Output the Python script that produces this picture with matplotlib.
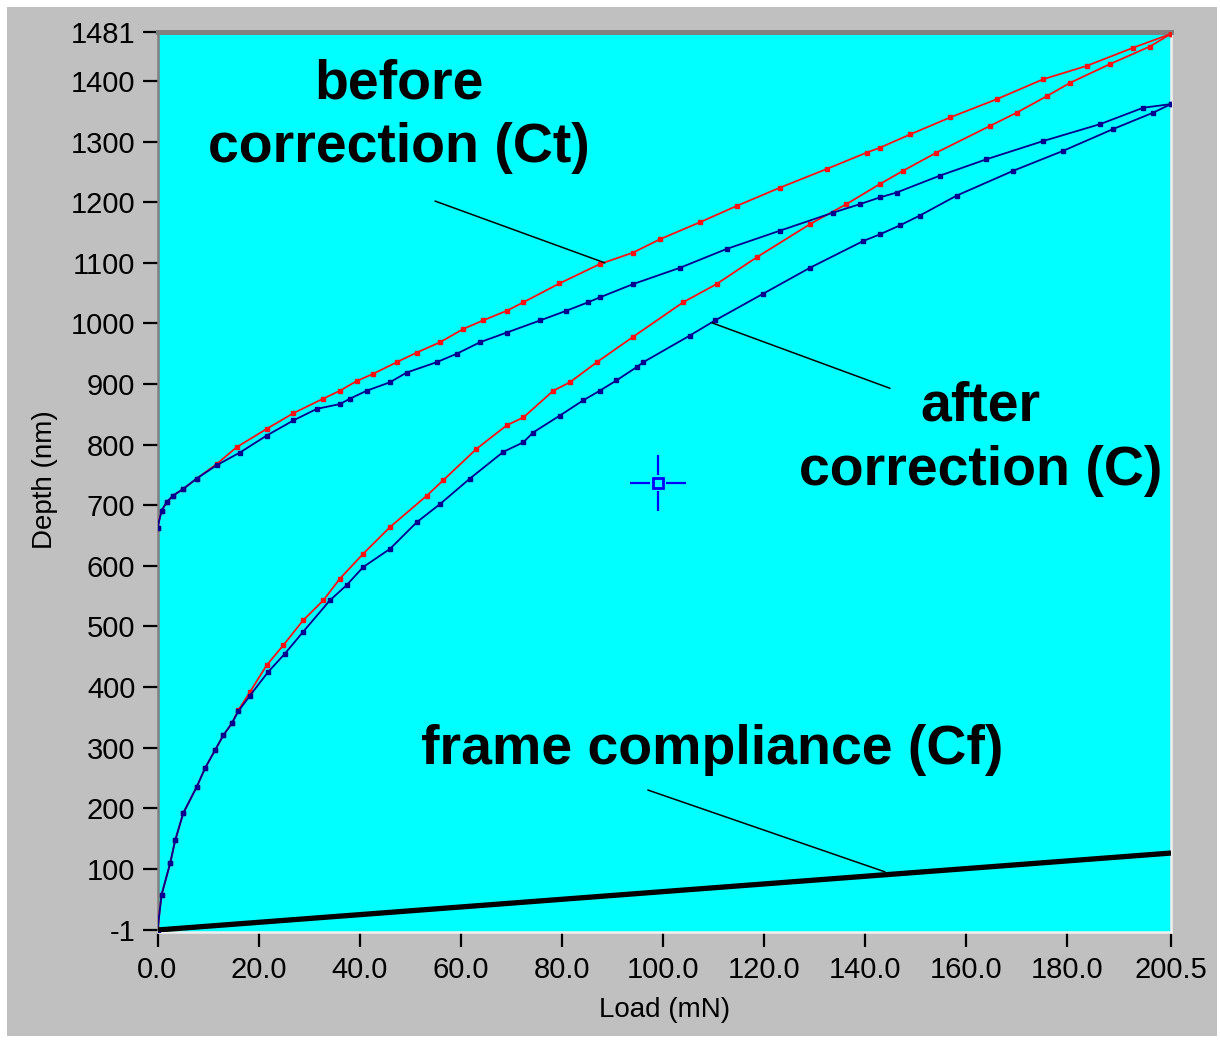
#!/usr/bin/env python3
"""Load-depth indentation curves before/after frame compliance correction."""
import matplotlib

matplotlib.use("Agg")
import matplotlib.pyplot as plt
from matplotlib.patches import Rectangle
from matplotlib.path import Path

# loading branch, before correction (Ct)
load_ct_up = [0, 0.8, 2.5, 3.5, 5.1, 7.75, 9.4, 11.4, 13.0, 14.7, 16.0, 18.3, 21.6,
              24.9, 28.8, 32.8, 36.1, 40.7, 46.0, 53.3, 56.5, 63.1, 69.1, 72.4, 78.3,
              81.6, 86.9, 94.1, 104.0, 110.6, 118.5, 129.1, 136.3, 142.9, 147.5, 154.1,
              164.7, 170.0, 175.9, 180.5, 188.4, 196.3, 200.5]
depth_ct_up = [-1, 57, 109, 147, 192, 235, 266, 296, 320, 340, 362, 392, 436,
               469, 510, 543, 579, 620, 664, 716, 741, 793, 832, 845, 889,
               903, 936, 978, 1035, 1065, 1109, 1164, 1197, 1230, 1252, 1282,
               1326, 1348, 1375, 1397, 1428, 1457, 1478]

# unloading branch, before correction (Ct)
load_ct_down = [0, 0.8, 1.8, 3.1, 5.1, 7.75, 11.7, 15.7, 21.6, 26.9, 32.8, 36.1, 39.4,
                42.7, 47.3, 51.3, 55.9, 60.5, 64.4, 69.1, 72.4, 79.5, 87.5, 94.1, 99.4,
                107.3, 114.6, 123.1, 132.4, 140.3, 142.9, 148.9, 156.8, 166.0, 175.2,
                183.8, 193.0, 200.5]
depth_ct_down = [663, 691, 705, 716, 727, 744, 768, 796, 826, 852, 876, 889, 905,
                 917, 936, 952, 969, 991, 1005, 1021, 1035, 1066, 1098, 1117, 1139,
                 1167, 1194, 1224, 1255, 1282, 1290, 1312, 1340, 1370, 1403,
                 1425, 1455, 1478]

# loading branch, after correction (C)
load_c_up = [0, 0.8, 2.5, 3.5, 5.1, 7.75, 9.4, 11.4, 13.0, 14.7, 16.0, 18.3, 21.9,
             25.2, 28.8, 34.1, 37.4, 40.7, 46.0, 51.3, 55.9, 61.8, 68.4, 72.4, 74.3,
             79.6, 84.2, 87.5, 90.8, 94.8, 96.1, 105.3, 110.3, 119.8, 129.1, 139.6,
             142.9, 146.9, 150.8, 158.1, 169.3, 179.2, 189.1, 197.0, 200.5]
depth_c_up = [-1, 57, 109, 147, 192, 235, 266, 296, 320, 340, 360, 386, 425,
              455, 491, 543, 568, 598, 628, 672, 702, 744, 788, 804, 820,
              848, 873, 889, 906, 928, 936, 980, 1005, 1049, 1092, 1136,
              1147, 1162, 1178, 1211, 1252, 1285, 1321, 1348, 1362]

# unloading branch, after correction (C)
load_c_down = [0, 0.8, 1.8, 3.1, 5.1, 7.75, 11.7, 16.3, 21.6, 26.9, 31.5, 36.1, 38.1,
               41.4, 46.0, 49.3, 55.2, 59.2, 63.8, 69.1, 75.7, 80.9, 85.2, 87.5, 94.1,
               103.4, 112.6, 123.1, 133.7, 139.0, 142.9, 146.2, 154.8, 164.0, 175.2,
               186.5, 195.0, 200.5]
depth_c_down = [663, 691, 705, 716, 727, 744, 766, 787, 815, 840, 859, 867, 876,
                889, 903, 919, 936, 950, 969, 985, 1005, 1021, 1035, 1043, 1065,
                1092, 1123, 1153, 1183, 1197, 1208, 1216, 1244, 1271, 1301,
                1329, 1356, 1362]

# frame compliance (Cf)
load_cf = [0, 200.5]
depth_cf = [-1, 126]

cursor_load, cursor_depth = 99.0, 737

x_ticks = [0, 20, 40, 60, 80, 100, 120, 140, 160, 180, 200.5]
x_labels = ["0.0", "20.0", "40.0", "60.0", "80.0", "100.0", "120.0", "140.0",
            "160.0", "180.0", "200.5"]
y_ticks = [-1, 100, 200, 300, 400, 500, 600, 700, 800, 900, 1000, 1100, 1200,
           1300, 1400, 1481]
y_labels = [str(v) for v in y_ticks]

# label text, baseline anchor, and where its pointer line runs
labels = [
    ("before", (47.8, 1372), None),
    ("correction (Ct)", (47.8, 1267), ((54.9, 1202), (88.5, 1100))),
    ("after", (162.8, 840), None),
    ("correction (C)", (162.8, 734), ((144.9, 893), (109.7, 1001))),
    ("frame compliance (Cf)", (109.7, 273), ((97.0, 230), (143.9, 95))),
]

RED = "#ff1010"
NAVY = "#000090"
W, H = 1220, 1041

fig = plt.figure(figsize=(W / 100, H / 100), dpi=100, facecolor="white")
fig.patches.append(Rectangle((7 / W, 1 - 1036 / H), 1210 / W, 1029 / H,
                             transform=fig.transFigure, facecolor="#c0c0c0",
                             edgecolor="none", zorder=-1))
ax = fig.add_axes([157.5 / W, 1 - 932 / H, 1013.5 / W, 900 / H])
ax.set_facecolor("#00ffff")

for xs, ys, c in [(load_ct_up, depth_ct_up, RED), (load_ct_down, depth_ct_down, RED),
                  (load_c_up, depth_c_up, NAVY), (load_c_down, depth_c_down, NAVY)]:
    ax.plot(xs, ys, color=c, lw=1.3, marker="s", ms=2.3, mec=c, mfc=c, zorder=3)

ax.plot(load_cf, depth_cf, color="black", lw=3.8, solid_capstyle="butt", zorder=4)

# cursor: open square with a gapped crosshair
cross = Path([(-1, 0), (-0.3, 0), (0.3, 0), (1, 0), (0, -1), (0, -0.3), (0, 0.3), (0, 1)],
             [Path.MOVETO, Path.LINETO] * 4)
ax.plot([cursor_load], [cursor_depth], marker=cross, ms=40, mew=1.6, color="#0000ff",
        zorder=5)
ax.plot([cursor_load], [cursor_depth], marker="s", ms=7, mew=2, mfc="none",
        mec="#0000ff", zorder=5)

for text, pos, ptr in labels:
    ax.text(pos[0], pos[1], text, ha="center", va="baseline", fontsize=40,
            fontweight="bold", family="Liberation Sans", zorder=6)
    if ptr is not None:
        ax.annotate("", xy=ptr[1], xytext=ptr[0],
                    arrowprops=dict(arrowstyle="-", color="black", lw=1.1,
                                    shrinkA=0, shrinkB=0), zorder=6)

ax.set_xlim(0, 200.5)
ax.set_ylim(-4.3, 1481)
ax.set_xticks(x_ticks)
ax.set_xticklabels(x_labels)
ax.set_yticks(y_ticks)
ax.set_yticklabels(y_labels)
ax.tick_params(axis="both", direction="out", length=11, width=1.6, labelsize=21,
               colors="black")
ax.tick_params(axis="y", pad=5)
ax.tick_params(axis="x", pad=6)
for lab in ax.get_xticklabels() + ax.get_yticklabels():
    lab.set_family("Liberation Sans")

ax.spines["top"].set_color("#808080")
ax.spines["top"].set_linewidth(3.6)
ax.spines["left"].set_color("#808080")
ax.spines["left"].set_linewidth(1.8)
ax.spines["right"].set_color("#f0f0f0")
ax.spines["right"].set_linewidth(1.8)
ax.spines["bottom"].set_color("#f0f0f0")
ax.spines["bottom"].set_linewidth(1.8)

fig.text(45 / W, 1 - 480 / H, "Depth (nm)", rotation=90, ha="center", va="center",
         fontsize=20, family="Liberation Sans")
fig.text(665 / W, 1 - 1010 / H, "Load (mN)", ha="center", va="center",
         fontsize=20, family="Liberation Sans")

fig.savefig("out.png", dpi=100, facecolor=fig.get_facecolor())
